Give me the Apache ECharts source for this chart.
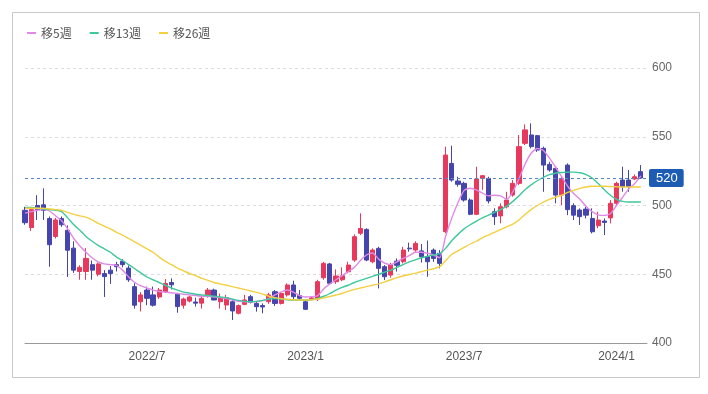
<!DOCTYPE html>
<html>
<head>
<meta charset="utf-8">
<script src="https://cdn.jsdelivr.net/npm/echarts@6/dist/echarts.min.js"></script>
<style>
html,body{margin:0;padding:0;background:#fff;}
#chart{width:708px;height:394px;}
</style>
</head>
<body>
<div id="chart"></div>
<script>
// ---- data (weekly candles) ----
const startDate = [2022, 2, 14];
const weekCount = 102;
const xTickIndex = [20, 46, 72, 97];
const xTickLabels = ['2022/7', '2023/1', '2023/7', '2024/1'];
const yTicks = [400, 450, 500, 550, 600];
const lastPrice = 520;
const seriesNames = ['移5週', '移13週', '移26週'];

const opens = [496.5,484,500,500.5,490.5,477.5,490.5,482,469,452,452,457,450,450.5,453,457,459.5,454.5,441,430,
438.5,435,433.5,437.3,444,435.5,427.5,430.5,429.8,429,434,438.5,430,427.6,430,421.6,428.1,433.7,428.8,427.2,
430,437.3,428.8,435,442.2,434.5,430,432.3,432,447.5,457.5,444.6,446,451.8,460.3,479.8,482.6,459.1,468.8,455.5,
449.4,459.5,459.1,469,467.6,467,462.8,467.6,465.2,481,530.6,517.8,516.1,504,493.6,519.7,519.7,495.5,492.4,499.1,
507.6,516.1,545.2,551.3,550.8,541.6,529.9,527,507.6,529.4,499.9,496.7,497.4,490.6,485.3,488.7,491,501.6,518.5,518.5,
519.3,524.6];
const closes = [487.5,497,497,496.5,471.5,489.5,486,467.5,453,455,461.5,453,457.5,448.3,450.5,455.5,457,446,427.5,435,
432.5,427.5,438.5,443.3,442.3,426.5,432,433.5,429,432.5,438.5,431.3,433,433,423.3,427.2,431.3,429.6,426.4,426.2,
435,428.8,436,442.2,433.7,432.5,424.5,432.8,444.6,457.9,443.4,448.7,449,456.7,477.3,483.3,460.3,467.6,454.3,448.2,
456.7,456.5,467.6,468.5,472.4,462.8,459.1,461.5,457.9,536.7,518.5,515.4,504,493.6,519.3,521.7,503.3,491.9,499.1,504,
516.1,542.8,555,542.8,540.3,529.4,525.8,507.6,519.7,497,493,491.9,493,480.9,489.4,487.7,501.6,516.1,513.7,513.7,
520.9,520];
const lows = [486,481.5,489.5,489.5,455.5,476,484.5,448,451,446,446,446,448.5,433.5,443,452,455,444.5,425,423,
427.5,426.5,432,436.5,439,422,425,429.5,426.5,425,433,431,425,424,416.7,420.8,427.5,428.8,422.8,421.6,
428.5,427,428,433.7,431,431,424,431.3,430.5,446,442.5,443,445,450.7,459,478.5,459.5,458,439.7,445.8,
447.5,452,457.9,466.4,466.4,458.5,448.2,459,454.3,479.8,517.3,513.7,502.8,493,493,511.3,501.5,485.8,487,497.9,
506.4,514.9,544,541.5,539,510,524.6,501.6,500.3,493,489.5,485.8,490.6,479.7,483.4,478.5,487,500.3,510,510,
518.5,519.5];
const highs = [499,498,507.5,512.5,492,491,492,485.5,474,456.5,469,460,458.5,453,456,459,461,456.5,443.5,437,
441,441,440,446.5,447,436.5,433,434.5,433,434.5,440,439.5,436,435,431.3,428,435,435,430,428.8,
436.5,438.5,437.3,443.4,445.3,438.5,431,433.7,446,459,458.2,453.5,455,459.1,479,494.3,483.4,468.8,470,456.7,
458.2,461.5,469.9,473,474,472,474.5,468.8,467.6,542.8,543.5,520.9,517.3,505.2,528.2,522.2,520.9,498,501.6,510,
518.5,551.3,559,559.7,551.3,542.8,531.8,528.2,520.9,530.6,501.6,497.9,499.1,497.9,495.5,490.6,504,517.3,528.2,525.8,
522.6,529.4];

const ma5 = [494.5,495.5,496.5,497,496,492.5,489,483,476,470.5,466,462,459,457.5,457,456.5,453,448,444,441.5,
440,438.5,437.5,437,436.5,436,435.5,435,434.5,434,434,433.5,433,432.3,431.3,430.3,430,430,430.2,430.8,
432.5,435,437,438.5,437,434.5,433.5,433.7,434.5,439.5,443,446,449,452,455,460,464,465.5,461,458,
457,459,461.5,463.5,466,466,465.3,464,462,478,491,502,511,512.5,511.3,509,507,507.5,507,504.5,
510,519.5,530,538,541.5,540,534.5,528,521,514,508.5,504.5,499.5,495.5,493.2,492.8,494,500,506,512,
516,521.5];
const ma13 = [498.5,498.5,498,497.5,497,496.5,495.5,491,486,482,477.5,474,471,468.5,466,462.5,460,457,454,451,
448,446,444,442,440,438.5,437,436.3,435.5,435,434.5,434,433.5,433,432,431,430.3,430,430.3,431,
432,432.3,432,431.5,431.3,431.3,431.3,431.5,432.5,434,436,438.5,440.5,442,444,445.5,447,448.5,450,451.5,
453,455,457,459,460.5,462,463,464,465,469,474.5,479,483,486,488.5,491,493,495,497,499.5,
503,507,511.5,515,518,520.5,522.5,523.5,524,524.3,524.3,523.8,522.5,520,516,511.5,507.5,504.5,503,502.5,
502.5,502.5];
const ma26 = [498,498,498,498,497.5,497,496.5,495,493.5,492.5,491.5,489.5,487,485,483,480.5,478.5,476,473.5,471,
468.5,466,462.5,459.5,457,454.5,452.5,450.5,449,447,445.5,444,443,442,441,440,439,437.8,436.8,435.5,
434,433,432.3,431.8,431.5,431.3,431.3,431.5,432,432.8,433.8,434.9,436,437.5,439,440,441,442,443,444.5,
446,447.5,448.7,449.8,450.8,451.8,453,454,455.5,460,464.5,467,469.5,472,474,476.5,478.5,480.5,482.5,484.5,
486.5,489.5,493.5,497,500,502.5,504.5,506,507.5,509.5,511,512.5,513.5,514,514,514,513.8,513.6,513.5,513.5,
513.5,513.5];

// ---- build categories (one extra empty slot on the right) ----
const weeks = [];
{
  const d = new Date(startDate[0], startDate[1] - 1, startDate[2]);
  for (let i = 0; i <= weekCount; i++) {
    weeks.push(d.getFullYear() + '/' + (d.getMonth() + 1) + '/' + d.getDate());
    d.setDate(d.getDate() + 7);
  }
}
const candleData = opens.map((o, i) => [o, closes[i], lows[i], highs[i]]);

const UP = '#e8395c';
const DOWN = '#4545ae';
const maColors = ['#e089e6', '#3fc89c', '#f2d03f'];

const chart = echarts.init(document.getElementById('chart'), null, {renderer: 'canvas'});
chart.setOption({
  animation: false,
  backgroundColor: '#fff',
  textStyle: {fontFamily: "'Liberation Sans', Arial, sans-serif"},
  graphic: [{
    type: 'rect', silent: true, z: -10,
    shape: {x: 12.5, y: 12.5, width: 687, height: 365},
    style: {fill: 'none', stroke: '#c8c8c8', lineWidth: 1}
  }],
  legend: {
    data: seriesNames,
    left: 22, top: 22,
    icon: 'rect', itemWidth: 9, itemHeight: 2, itemGap: 18,
    textStyle: {color: '#555', fontSize: 12, fontFamily: "'Noto Sans CJK JP', sans-serif", padding: [0, 0, 4, 0]}
  },
  grid: {left: 25, right: 61, top: 68, bottom: 51},
  xAxis: {
    type: 'category',
    data: weeks,
    boundaryGap: false,
    axisLine: {lineStyle: {color: '#999', width: 1}},
    axisTick: {show: false},
    splitLine: {show: false},
    axisLabel: {
      color: '#555', fontSize: 12, margin: 8,
      interval: (idx) => xTickIndex.indexOf(idx) >= 0,
      formatter: (v, idx) => {
        const k = xTickIndex.indexOf(idx);
        return k >= 0 ? xTickLabels[k] : '';
      }
    }
  },
  yAxis: {
    type: 'value',
    position: 'right',
    min: yTicks[0], max: yTicks[yTicks.length - 1], interval: 50,
    axisLine: {show: false},
    axisTick: {show: false},
    axisLabel: {color: '#666', fontSize: 12, margin: 5},
    splitLine: {lineStyle: {color: '#dcdcdc', type: [3, 3], width: 1}}
  },
  series: [
    {
      type: 'candlestick',
      data: candleData,
      barWidth: '76%',
      clip: true,
      itemStyle: {color: UP, color0: DOWN, borderColor: UP, borderColor0: DOWN, borderWidth: 1},
      markLine: {
        silent: true,
        symbol: ['none', 'none'],
        data: [{yAxis: lastPrice}],
        lineStyle: {type: [3, 3], color: '#5b86c4', width: 1},
        label: {
          position: 'end', formatter: String(lastPrice), distance: 2,
          color: '#fff', backgroundColor: '#1c5db3', padding: [3, 6, 2, 7],
          borderRadius: 2, fontSize: 13
        }
      },
      z: 2
    },
    {name: seriesNames[0], type: 'line', data: ma5, symbol: 'none', smooth: 0.2,
     lineStyle: {color: maColors[0], width: 1.4}, itemStyle: {color: maColors[0]}, z: 3},
    {name: seriesNames[1], type: 'line', data: ma13, symbol: 'none', smooth: 0.2,
     lineStyle: {color: maColors[1], width: 1.4}, itemStyle: {color: maColors[1]}, z: 3},
    {name: seriesNames[2], type: 'line', data: ma26, symbol: 'none', smooth: 0.2,
     lineStyle: {color: maColors[2], width: 1.4}, itemStyle: {color: maColors[2]}, z: 3}
  ]
});
</script>
</body>
</html>
